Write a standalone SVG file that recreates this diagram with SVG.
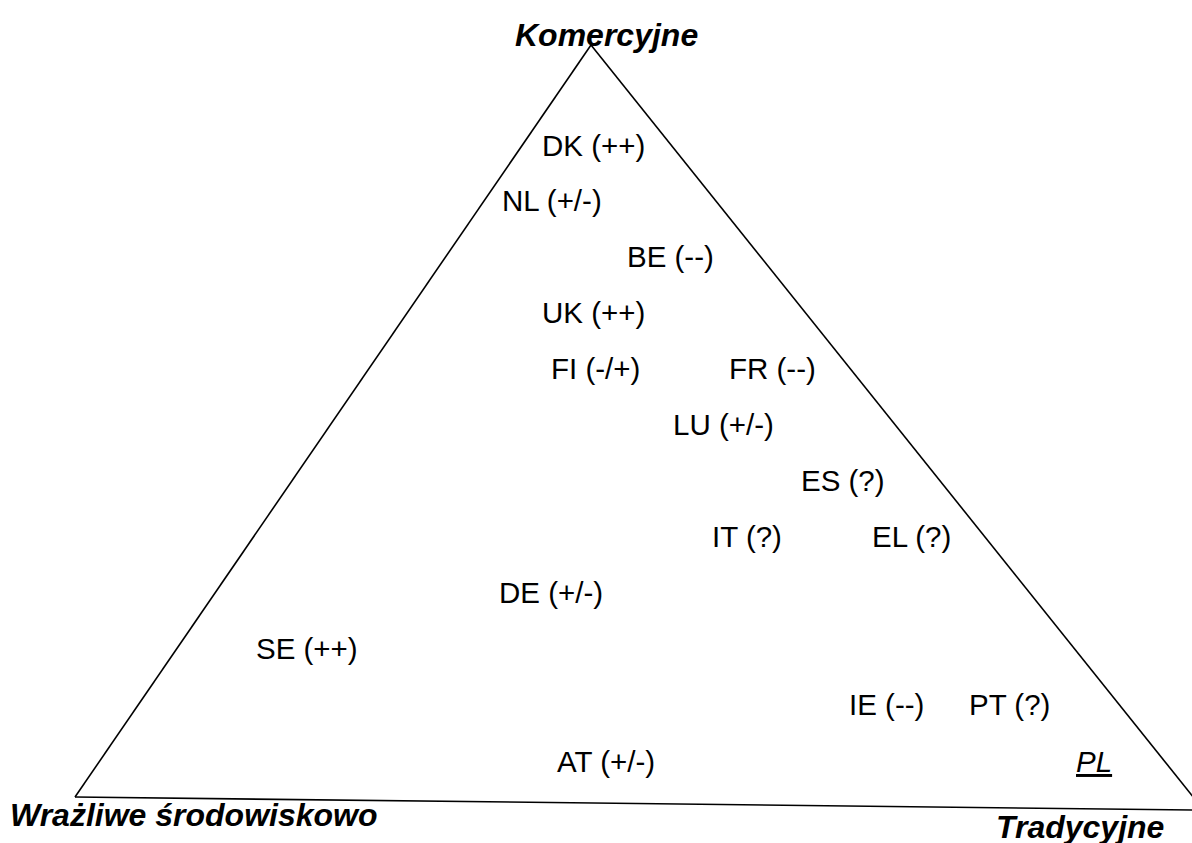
<svg xmlns="http://www.w3.org/2000/svg" width="1192" height="843" viewBox="0 0 1192 843">
<style>
.lbl{font-family:"Liberation Sans",Arial,sans-serif;font-size:29.5px;fill:#000}
.ax{font-family:"Liberation Sans",Arial,sans-serif;font-size:32px;font-weight:bold;font-style:italic;fill:#000}
.edge{stroke:#000;stroke-width:1.6;fill:none}
</style>
<rect width="1192" height="843" fill="#fff"/>
<g id="connectors">
<line class="edge" x1="591" y1="45" x2="75" y2="797"/>
<line class="edge" x1="591" y1="45" x2="1194" y2="798"/>
<line class="edge" x1="75" y1="797" x2="1194" y2="810" stroke-width="2.4"/>
</g>
<g id="axis-komercyjne"><text class="ax" x="515" y="46">Komercyjne</text></g>
<g id="axis-wrazliwe"><text class="ax" x="10" y="826">Wrażliwe środowiskowo</text></g>
<g id="axis-tradycyjne"><text class="ax" x="996" y="838">Tradycyjne</text></g>
<g id="DK"><text class="lbl" x="542" y="156">DK (++)</text></g>
<g id="NL"><text class="lbl" x="502" y="211">NL (+/-)</text></g>
<g id="BE"><text class="lbl" x="627" y="267">BE (--)</text></g>
<g id="UK"><text class="lbl" x="542" y="323">UK (++)</text></g>
<g id="FI"><text class="lbl" x="551" y="379">FI (-/+)</text></g>
<g id="FR"><text class="lbl" x="729" y="379">FR (--)</text></g>
<g id="LU"><text class="lbl" x="673" y="435">LU (+/-)</text></g>
<g id="ES"><text class="lbl" x="801" y="491">ES (?)</text></g>
<g id="IT"><text class="lbl" x="712" y="547">IT (?)</text></g>
<g id="EL"><text class="lbl" x="872" y="547">EL (?)</text></g>
<g id="DE"><text class="lbl" x="499" y="603">DE (+/-)</text></g>
<g id="SE"><text class="lbl" x="256" y="659">SE (++)</text></g>
<g id="IE"><text class="lbl" x="849" y="715">IE (--)</text></g>
<g id="PT"><text class="lbl" x="969" y="715">PT (?)</text></g>
<g id="AT"><text class="lbl" x="557" y="772">AT (+/-)</text></g>
<g id="PL"><text class="lbl" x="1076" y="772" font-style="italic" text-decoration="underline">PL</text></g>
</svg>
